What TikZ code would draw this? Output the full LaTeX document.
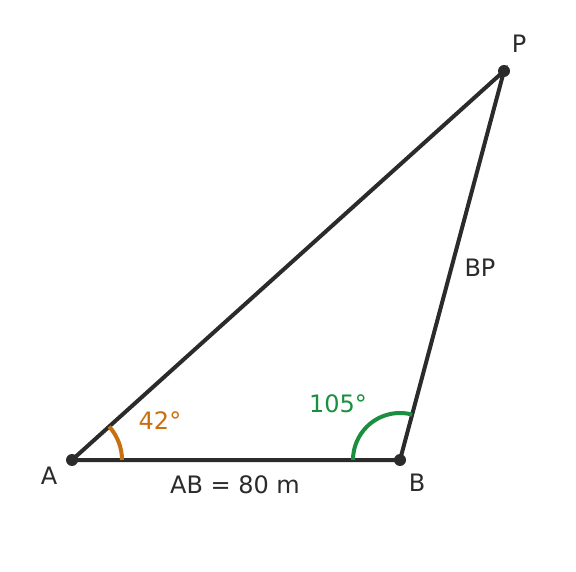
\documentclass[tikz,border=0pt]{standalone}
\usepackage{fontspec}
\setmainfont{DejaVu Sans}
\begin{document}
\begin{tikzpicture}[x=1pt,y=-1pt,
  seg/.style={line width=4pt,draw=lineC,line cap=round},
  pt/.style={circle,fill=lineC,inner sep=0pt,minimum size=12pt},
  lab/.style={text=lineC,font=\fontsize{24}{28}\selectfont,inner sep=0pt},
  arcA/.style={line width=4pt,draw=orangeC},
  arcB/.style={line width=4pt,draw=greenC}]
\definecolor{lineC}{HTML}{2B2B2B}
\definecolor{orangeC}{HTML}{C87010}
\definecolor{greenC}{HTML}{1A8F40}
\useasboundingbox (0,0) rectangle (576,572);
\coordinate (A) at (72,460);
\coordinate (B) at (400,460);
\coordinate (P) at (504,71);
\draw[seg] (A) -- (B) -- (P) -- cycle;
% angle arcs (y axis flipped: math angles become negative)
\draw[arcA] ([shift={(0:50)}]A) arc[start angle=0,end angle=-42,radius=50];
\draw[arcB] ([shift={(-75:47)}]B) arc[start angle=-75,end angle=-180,radius=47];
\node[pt] (dA) at (A) {};
\node[pt] (dB) at (B) {};
\node[pt] (dP) at (P) {};
\node[lab] (lA) at (49,476) {A};
\node[lab] (lB) at (417,483) {B};
\node[lab] (lP) at (519,44) {P};
\node[lab] (lBP) at (480,268) {BP};
\node[lab] (lAB) at (235,485) {AB = 80 m};
\node[lab,text=orangeC] (la) at (160,421) {42°};
\node[lab,text=greenC] (lb) at (338,404) {105°};
\end{tikzpicture}
\end{document}
